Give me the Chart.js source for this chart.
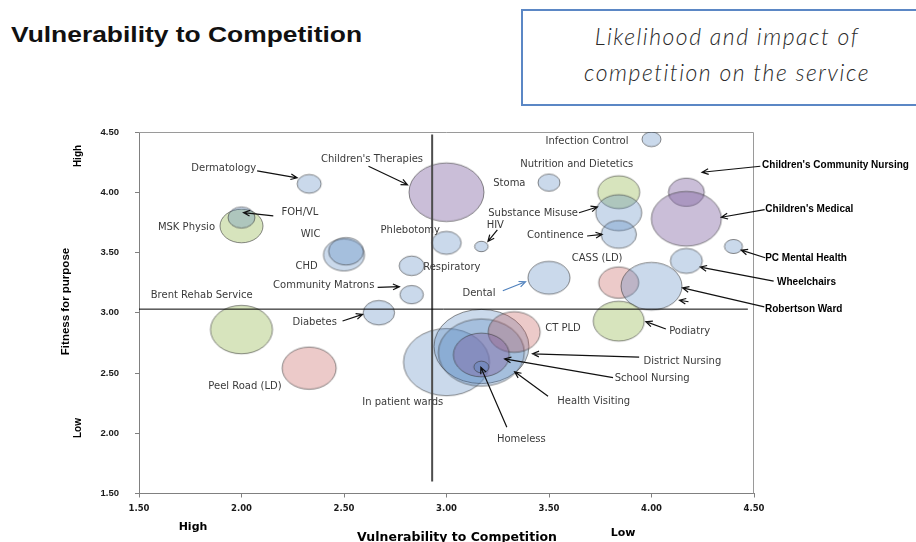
<!DOCTYPE html>
<html>
<head>
<meta charset="utf-8">
<title>Vulnerability to Competition</title>
<script src="https://cdn.jsdelivr.net/npm/chart.js@4.4.1/dist/chart.umd.min.js"></script>
<style>
  html, body { margin: 0; padding: 0; background: #fff; }
  #page { position: relative; width: 916px; height: 542px; overflow: hidden; background: #fff; }
  #chart { position: absolute; left: 0; top: 0; }
  .heading {
    position: absolute; left: 11px; top: 22px;
    font: bold 22px 'Liberation Sans', Arial, sans-serif; color: #111;
    line-height: 26px; white-space: nowrap;
    transform: scaleX(1.2); transform-origin: 0 50%;
  }
  .note {
    position: absolute; left: 521px; top: 9px; width: 412px; height: 97px;
    box-sizing: border-box; border: 2px solid #5b87c5; background: #fff;
    text-align: center; padding-top: 7px;
    font: italic 300 23px 'Segoe Print', 'Lato', sans-serif; color: #2a2a2a;
    line-height: 36px; letter-spacing: 1.5px;
  }
</style>
</head>
<body>
<div id="page">
  <div class="heading">Vulnerability to Competition</div>
  <div class="note">Likelihood and impact of<br>competition on the service</div>
  <canvas id="chart" width="916" height="542"></canvas>
</div>
<script>
// ---- services plotted: vulnerability (x), fitness for purpose (y), bubble size, directorate
const services = [
  'Infection Control', 'Dermatology', "Children's Therapies", 'Stoma',
  'Nutrition and Dietetics', "Children's Community Nursing", 'MSK Physio', 'FOH/VL',
  "Children's Medical", 'Substance Misuse', 'Phlebotomy', 'HIV',
  'Continence', 'PC Mental Health', 'CHD', 'WIC',
  'Respiratory', 'Wheelchairs', 'Dental', 'CASS (LD)',
  'Robertson Ward', 'Community Matrons', 'Diabetes', 'Podiatry',
  'Brent Rehab Service', 'In patient wards', 'District Nursing', 'Health Visiting',
  'CT PLD', 'School Nursing', 'Peel Road (LD)', 'Homeless'
];
const vulnerability = [
  4.00, 2.33, 3.00, 3.50,
  3.84, 4.17, 2.00, 2.00,
  4.17, 3.84, 3.00, 3.17,
  3.84, 4.40, 2.50, 2.51,
  2.83, 4.17, 3.50, 3.84,
  4.00, 2.83, 2.67, 3.84,
  2.00, 3.00, 3.17, 3.17,
  3.33, 3.17, 2.33, 3.17
];
const fitness = [
  4.44, 4.07, 4.00, 4.08,
  4.00, 4.00, 3.72, 3.79,
  3.78, 3.83, 3.58, 3.55,
  3.65, 3.55, 3.48, 3.51,
  3.39, 3.43, 3.29, 3.25,
  3.22, 3.15, 3.00, 2.93,
  2.86, 2.59, 2.72, 2.67,
  2.84, 2.65, 2.54, 2.55
];
const bubbleSize = [
  9.5, 12, 37.5, 11,
  21, 18, 21.5, 13.5,
  35, 23, 14.7, 6.7,
  17.7, 9, 20.5, 17.5,
  12.5, 16, 21, 20,
  30.5, 11.7, 15.7, 25.5,
  31, 43, 47.5, 43,
  26, 28, 27, 7.5
];
const directorate = [
  'Adult', 'Adult', 'Children', 'Adult',
  'Rehab', 'Children', 'Rehab', 'Adult',
  'Children', 'Adult', 'Adult', 'Adult',
  'Adult', 'Adult', 'Adult', 'Adult',
  'Adult', 'Adult', 'Adult', 'LD',
  'Adult', 'Adult', 'Adult', 'Rehab',
  'Rehab', 'Adult', 'Adult', 'Adult',
  'LD', 'Children', 'LD', 'Adult'
];

// axis ticks and quadrant dividers
const axisTicks = [1.5, 2.0, 2.5, 3.0, 3.5, 4.0, 4.5];
const dividerX = 2.93, dividerXFrom = 1.6, dividerXTo = 4.48;
const dividerY = 3.03, dividerYFrom = 1.5, dividerYTo = 4.47;

// ---- styling
const fills = {
  Adult:    'rgba(79,129,189,0.30)',
  Children: 'rgba(128,100,162,0.42)',
  Rehab:    'rgba(155,187,89,0.40)',
  LD:       'rgba(192,80,77,0.30)'
};
const outline = 'rgba(55,55,55,0.65)';
const ASPECT = 1.28;   // bubbles are drawn as wide ellipses

const spriteCache = {};
function ellipseSprite(rx, fill) {
  const key = rx + '|' + fill;
  if (spriteCache[key]) return spriteCache[key];
  const ry = rx / ASPECT;
  const c = document.createElement('canvas');
  c.width = Math.ceil(rx * 2 + 4);
  c.height = Math.ceil(ry * 2 + 4);
  const g = c.getContext('2d');
  g.beginPath();
  g.ellipse(c.width / 2, c.height / 2, rx, ry, 0, 0, Math.PI * 2);
  g.fillStyle = fill;
  g.fill();
  g.lineWidth = 0.9;
  g.strokeStyle = outline;
  g.stroke();
  spriteCache[key] = c;
  return c;
}

// label placement relative to each bubble centre (pixels), with optional arrows
const callouts = [
  { name: 'Infection Control', dx: -23, dy: 2, align: 'right' },
  { name: 'Dermatology', dx: -53, dy: -15.5, align: 'right', arrows: [[-52, -13, -12, -6]] },
  { name: "Children's Therapies", dx: -74.5, dy: -32.5, align: 'center', arrows: [[-78, -26, -39, -7.5]] },
  { name: 'Stoma', dx: -23.5, dy: 0.5, align: 'right' },
  { name: 'Nutrition and Dietetics', dx: -42, dy: -27.5, align: 'center' },
  { name: "Children's Community Nursing", dx: 75.7, dy: -26.7, align: 'left', bold: true, arrows: [[74, -26, 15.7, -20]] },
  { name: 'FOH/VL', dx: 40, dy: -5, align: 'left', arrows: [[31.8, -1.7, 2, -5]] },
  { name: 'MSK Physio', dx: -26.5, dy: 1.3, align: 'right' },
  { name: "Children's Medical", dx: 79, dy: -9.8, align: 'left', bold: true, arrows: [[78.3, -9.1, 35, -1.5]] },
  { name: 'Substance Misuse', dx: -40.7, dy: 1, align: 'right', arrows: [[-39.7, 0, -21.3, -5.7]] },
  { name: 'Phlebotomy', dx: -6.5, dy: -12.7, align: 'right' },
  { name: 'HIV', dx: 5.3, dy: -20.7, align: 'left', arrows: [[16, -16.7, 6.6, -5]] },
  { name: 'Continence', dx: -35, dy: 1, align: 'right', arrows: [[-31.6, 1.6, -16.6, 0]] },
  { name: 'PC Mental Health', dx: 31.7, dy: 12, align: 'left', bold: true, arrows: [[31.7, 11.3, 7.7, 3.6]] },
  { name: 'WIC', dx: -25.5, dy: -17.3, align: 'right' },
  { name: 'CHD', dx: -26.2, dy: 11.8, align: 'right' },
  { name: 'Respiratory', dx: 11.5, dy: 1.3, align: 'left' },
  { name: 'Wheelchairs', dx: 90.7, dy: 21.2, align: 'left', bold: true, arrows: [[87.3, 20.2, 14, 6.2]] },
  { name: 'Dental', dx: -53.5, dy: 15.7, align: 'right', arrowColor: '#4f81bd', arrows: [[-46.2, 13, -23.5, 4]] },
  { name: 'CASS (LD)', dx: -21.6, dy: -24, align: 'center' },
  { name: 'Robertson Ward', dx: 113.5, dy: 23.3, align: 'left', bold: true, arrows: [[112.8, 20.7, 31.1, 1.7], [37, 15.5, 28, 14]] },
  { name: 'Community Matrons', dx: -37.3, dy: -9.7, align: 'right', arrows: [[-34, -7.3, -12.3, -8]] },
  { name: 'Diabetes', dx: -42, dy: 9.3, align: 'right', arrows: [[-36.3, 8.3, -16.3, 1.6]] },
  { name: 'Podiatry', dx: 50.5, dy: 10.2, align: 'left', arrows: [[47.2, 7.8, 27.2, 0.5]] },
  { name: 'Brent Rehab Service', dx: -39.8, dy: -34, align: 'center' },
  { name: 'CT PLD', dx: 31, dy: -4, align: 'left' },
  { name: 'District Nursing', dx: 162.2, dy: 14.7, align: 'left', arrows: [[157.8, 10.7, 51.2, 7.3]] },
  { name: 'School Nursing', dx: 133.3, dy: 23.3, align: 'left', arrows: [[131.7, 22.7, 23.3, 4]] },
  { name: 'Health Visiting', dx: 76, dy: 49.3, align: 'left', arrows: [[66.7, 43.7, 33.3, 19.3]] },
  { name: 'In patient wards', dx: -43.8, dy: 40.3, align: 'center' },
  { name: 'Peel Road (LD)', dx: -64.2, dy: 18.4, align: 'center' },
  { name: 'Homeless', dx: 40, dy: 72, align: 'center', arrows: [[25.5, 60.3, -0.5, 0.3]] }
];

function drawArrow(ctx, x1, y1, x2, y2, color) {
  const ang = Math.atan2(y2 - y1, x2 - x1);
  const head = 7, spread = 0.42;
  ctx.save();
  ctx.strokeStyle = color;
  ctx.lineWidth = 1.2;
  ctx.beginPath();
  ctx.moveTo(x1, y1);
  ctx.lineTo(x2, y2);
  ctx.moveTo(x2 - head * Math.cos(ang - spread), y2 - head * Math.sin(ang - spread));
  ctx.lineTo(x2, y2);
  ctx.lineTo(x2 - head * Math.cos(ang + spread), y2 - head * Math.sin(ang + spread));
  ctx.stroke();
  ctx.restore();
}

const calloutPlugin = {
  id: 'serviceCallouts',
  beforeDatasetsDraw(chart) {
    // light frame on the top and right of the plot area
    const { ctx, chartArea: a } = chart;
    ctx.save();
    ctx.strokeStyle = '#9a9a9a';
    ctx.lineWidth = 1;
    ctx.beginPath();
    ctx.moveTo(a.left, a.top + 0.5);
    ctx.lineTo(a.right - 0.5, a.top + 0.5);
    ctx.lineTo(a.right - 0.5, a.bottom);
    ctx.stroke();
    ctx.restore();
  },
  afterDatasetsDraw(chart) {
    const ctx = chart.ctx;
    const meta = chart.getDatasetMeta(0);
    callouts.forEach(c => {
      const i = services.indexOf(c.name);
      if (i < 0) return;
      const el = meta.data[i];
      const cx = el.x, cy = el.y;
      (c.arrows || []).forEach(a => drawArrow(ctx, cx + a[0], cy + a[1], cx + a[2], cy + a[3], c.arrowColor || '#111'));
      ctx.save();
      ctx.font = c.bold ? "bold 10px 'Liberation Sans', Arial, sans-serif" : "10px 'DejaVu Sans', sans-serif";
      ctx.fillStyle = c.bold ? '#000' : '#3a3a3a';
      ctx.textAlign = c.align;
      ctx.textBaseline = 'middle';
      ctx.fillText(c.name, cx + c.dx, cy + c.dy);
      ctx.restore();
    });
  },
  afterDraw(chart) {
    const ctx = chart.ctx;
    ctx.save();
    ctx.fillStyle = '#000';
    ctx.textBaseline = 'middle';
    ctx.textAlign = 'center';
    // horizontal axis captions
    ctx.font = "bold 12.5px 'DejaVu Sans', sans-serif";
    ctx.fillText('Vulnerability to Competition', 457, 538);
    ctx.font = "bold 11px 'DejaVu Sans', sans-serif";
    ctx.fillText('High', 193, 527.5);
    ctx.fillText('Low', 623, 533);
    // vertical axis captions
    const vText = (text, x, y, font) => {
      ctx.save();
      ctx.translate(x, y);
      ctx.rotate(-Math.PI / 2);
      ctx.font = font;
      ctx.fillText(text, 0, 0);
      ctx.restore();
    };
    vText('Fitness for purpose', 66, 301.5, "bold 11.5px 'Liberation Sans', Arial, sans-serif");
    vText('High', 78, 156, "bold 10px 'Liberation Sans', Arial, sans-serif");
    vText('Low', 78, 428, "bold 10px 'Liberation Sans', Arial, sans-serif");
    ctx.restore();
  }
};

const bubblePoints = services.map((s, i) => ({ x: vulnerability[i], y: fitness[i], r: bubbleSize[i] }));

const xTickFont = { family: "'DejaVu Sans', sans-serif", size: 8.5, weight: 'bold' };
const yTickFont = { family: "'Liberation Sans', Arial, sans-serif", size: 9.5, weight: 'bold' };
const fixTicks = scale => { scale.ticks = axisTicks.map(v => ({ value: v })); };

new Chart(document.getElementById('chart'), {
  type: 'bubble',
  data: {
    datasets: [
      {
        label: 'Services',
        data: bubblePoints,
        order: 2,
        backgroundColor: directorate.map(d => fills[d]),
        borderColor: outline,
        pointStyle: ctx => ellipseSprite(ctx.raw.r, fills[directorate[ctx.dataIndex]])
      },
      {
        type: 'line',
        label: 'Vulnerability divide',
        data: [{ x: dividerX, y: dividerXFrom }, { x: dividerX, y: dividerXTo }],
        borderColor: '#4d4d4d',
        borderWidth: 2,
        pointRadius: 0,
        order: 1
      },
      {
        type: 'line',
        label: 'Fitness divide',
        data: [{ x: dividerYFrom, y: dividerY }, { x: dividerYTo, y: dividerY }],
        borderColor: '#000',
        borderWidth: 1,
        pointRadius: 0,
        order: 0
      }
    ]
  },
  options: {
    responsive: false,
    animation: false,
    events: [],
    layout: { padding: { left: 0, right: 162, top: 132, bottom: 0 } },
    plugins: { legend: { display: false }, tooltip: { enabled: false } },
    scales: {
      x: {
        type: 'linear',
        min: axisTicks[0],
        max: axisTicks[axisTicks.length - 1],
        afterBuildTicks: fixTicks,
        afterFit: s => { s.height = 40; },
        grid: { drawOnChartArea: false, tickLength: 4, color: '#808080' },
        border: { color: '#808080', width: 1 },
        ticks: { font: xTickFont, color: '#1a1a1a', padding: 6, maxRotation: 0, autoSkip: false,
                 callback: v => Number(v).toFixed(2) }
      },
      y: {
        type: 'linear',
        min: axisTicks[0],
        max: axisTicks[axisTicks.length - 1],
        afterBuildTicks: fixTicks,
        afterFit: s => { s.width = 139; },
        grid: { drawOnChartArea: false, tickLength: 4, color: '#808080' },
        border: { color: '#808080', width: 1 },
        ticks: { font: yTickFont, color: '#1a1a1a', padding: 16, autoSkip: false,
                 callback: v => Number(v).toFixed(2) }
      }
    }
  },
  plugins: [calloutPlugin]
});
</script>
</body>
</html>
